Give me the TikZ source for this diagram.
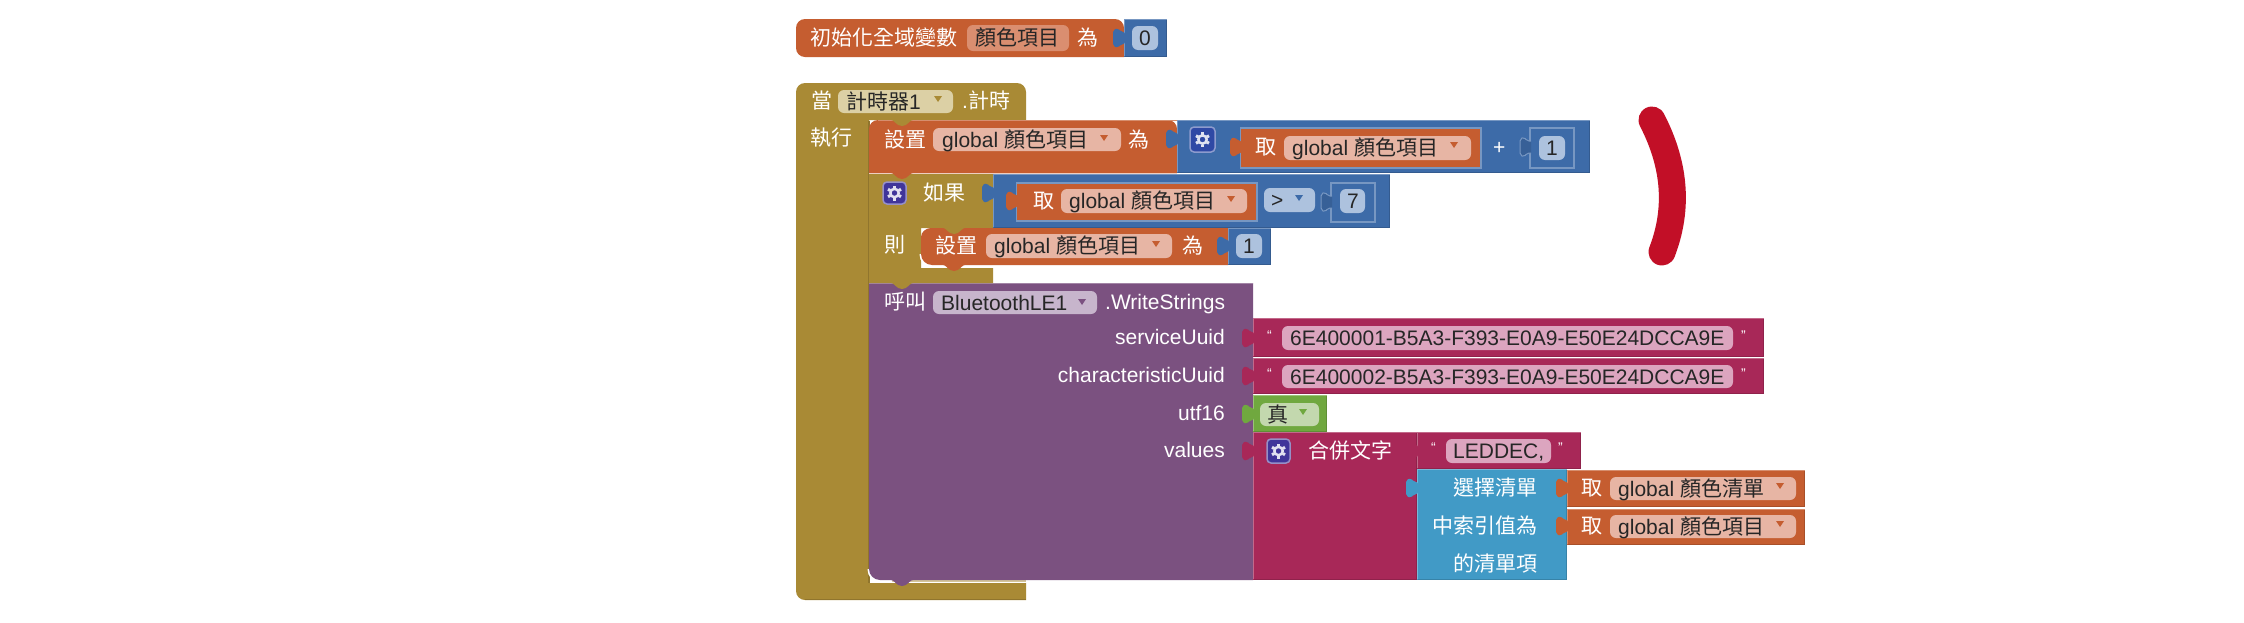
\documentclass[tikz,border=0pt]{standalone}
\usepackage{fontspec}
\setmainfont{Liberation Sans}
\newfontfamily\cjk{Noto Sans CJK TC}
\definecolor{cOr}{HTML}{C55D30}
\definecolor{cBl}{HTML}{3D6BA8}
\definecolor{cOl}{HTML}{A98A35}
\definecolor{cPu}{HTML}{7B5180}
\definecolor{cMa}{HTML}{A82858}
\definecolor{cGr}{HTML}{70A83F}
\definecolor{cSk}{HTML}{419AC6}
\definecolor{cRe}{HTML}{C20F27}
\definecolor{fOr}{HTML}{E7B5A4}
\definecolor{fOd}{HTML}{DA8E70}
\definecolor{fOl}{HTML}{DCD0A5}
\definecolor{fPu}{HTML}{C7B5CC}
\definecolor{fMa}{HTML}{DCA5BF}
\definecolor{fBl}{HTML}{ADC2DE}
\definecolor{fGr}{HTML}{C3D8AE}
\definecolor{cGa}{HTML}{2F49A5}
\definecolor{cGb}{HTML}{40359A}
\newcommand{\cj}[1]{{\cjk #1}}
\newcommand{\Gv}[1]{global \cj{#1}}
\tikzset{
  lbl/.style={inner sep=0pt,text=white,font=\fontsize{21}{21}\selectfont},
  fldtxt/.style={inner sep=0pt,text=black!85,font=\fontsize{21}{21}\selectfont},
  quot/.style={inner sep=0pt,text=white,font=\fontsize{14}{14}\selectfont},
}
\newcommand{\Blk}[5]{%
  \fill[#1] (#2,#3) rectangle (#4,#5);
  \draw[#1!70!white,line width=1.5pt] (#2+0.7,#5-1) -- (#2+0.7,#3+0.7) -- (#4,#3+0.7);
  \draw[#1!85!black,line width=1.5pt] (#2+1,#5-0.7) -- (#4-0.7,#5-0.7) -- (#4-0.7,#3+1);
}
% output tab sticking out left of x
\newcommand{\Ntab}[3]{%
  \begin{scope}[shift={(#1,#2)}]
  \fill[#3,rounded corners=2pt] (1,-6) -- (-3,-6) -- (-6,-10) -- (-11,-8) -- (-11,8) -- (-6,10) -- (-3,6) -- (1,6) -- cycle;
  \end{scope}}
% tab of an empty-looking socket, outlined
\newcommand{\Stab}[2]{%
  \begin{scope}[shift={(#1,#2)}]
  \draw[cBl!70!white,fill=cBl!90!black,line width=1pt,rounded corners=2pt] (1,-6) -- (-3,-6) -- (-6,-10) -- (-10,-8) -- (-10,8) -- (-6,10) -- (-3,6) -- (1,6);
  \end{scope}}
\newcommand{\Bump}[3]{%
  \begin{scope}[shift={(#1,#2)}]
  \fill[#3] (0,-0.5) .. controls (5,0) and (6,6) .. (12,6) .. controls (18,6) and (19,0) .. (24,-0.5) -- cycle;
  \end{scope}}
\newcommand{\Fld}[8]{%
  \fill[#6,rounded corners=6pt] (#2,#3) rectangle (#4,#5);
  \path (#7,{(#3+#5)/2+7.5}) node[fldtxt,anchor=base west] (#1) {#8};}
\newcommand{\Tri}[3]{%
  \begin{scope}[shift={(#1,#2)}]
  \fill[#3] (-4,-3) -- (4,-3) -- (0,3) -- cycle;
  \end{scope}}
\newcommand{\Tx}[4]{\path (#2,#3+7.5) node[lbl,anchor=base west] (#1) {#4};}
\newcommand{\Tr}[4]{\path (#2,#3+7.5) node[lbl,anchor=base east] (#1) {#4};}
\newcommand{\Qx}[4]{\path (#2,#3+7.5) node[quot,anchor=base west] (#1) {#4};}
\newcommand{\Gear}[5]{%
  \fill[#5,draw=#5!55!white,line width=1.5pt,rounded corners=4pt] (#1,#2) rectangle (#3,#4);
  \begin{scope}[shift={({(#1+#3)/2},{(#2+#4)/2})}]
  \draw[white!85!#5,line width=2.5pt] (0,0) circle (4.2);
  \foreach \a in {30,90,...,330} \draw[white!85!#5,line width=3pt] (\a:5) -- (\a:7.5);
  \end{scope}}
\newcommand{\Sock}[4]{\draw[cBl!70!white,line width=1.5pt] (#1,#2) rectangle (#3,#4);}
\begin{document}
\begin{tikzpicture}[x=1pt,y=-1pt]
\useasboundingbox (0,0) rectangle (2244,622);
\fill[white] (0,0) rectangle (2244,622);

% ---- initialise global
\fill[cOr] (1124,57) [rounded corners=9pt] -- (796,57) -- (796,19) -- (1124,19) [sharp corners] -- cycle;
\Blk{cBl}{1124}{19}{1167}{57}
\Ntab{1124}{38}{cBl}
\Tx{t_init}{810}{38}{\cj{初始化全域變數}}
\Fld{f_init}{967}{25}{1069}{51}{fOd}{975}{\cj{顏色項目}}
\Tx{t_init2}{1077}{38}{\cj{為}}
\Fld{f_zero}{1132}{26}{1158}{50}{fBl}{1139}{0}

% ---- timer event (olive bracket)
\fill[cOl] (1026,600) [rounded corners=9pt] -- (796,600) -- (796,83) -- (1026,83) [sharp corners] -- (1026,120) -- (869,120) -- (869,583) -- (1026,583) -- cycle;
\draw[cOl!85!black,line width=1.2pt] (869,121) -- (869,583);
\draw[cOl!85!black,line width=1.5pt] (805,599.3) -- (1026,599.3);
\Tx{t_when}{811}{101}{\cj{當}}
\Fld{f_timer}{838}{90}{953}{113}{fOl}{846}{\cj{計時器}1}
\Tri{938}{99}{cOl}
\Tx{t_tick}{962}{101}{.\cj{計時}}
\Tx{t_do}{810}{138}{\cj{執行}}

% ---- call BluetoothLE1.WriteStrings
\draw[cOl!50!white,line width=1.5pt] (880,581) -- (1026,581);
\draw[white,line width=2pt] (868.5,569) .. controls (868.5,576) and (873,581) .. (880,581) -- (892,581);
\fill[cPu] (1253,580) -- (880,580) .. controls (874,580) and (869,575) .. (869,569) -- (869,283) -- (1253,283) -- cycle;
\draw[cPu!70!white,line width=1.5pt] (869,283.7) -- (1253,283.7);
\Bump{890}{580}{cPu}
\Tx{t_call}{884}{302}{\cj{呼叫}}
\Fld{f_ble}{933}{291}{1097}{314}{fPu}{941}{BluetoothLE1}
\Tri{1082}{302}{cPu}
\Tx{t_write}{1105}{302}{.WriteStrings}
\Tr{t_svc}{1225}{337}{serviceUuid}
\Tr{t_chr}{1225}{375}{characteristicUuid}
\Tr{t_utf}{1225}{413}{utf16}
\Tr{t_val}{1225}{450}{values}

% service uuid
\Blk{cMa}{1253}{318}{1764}{357}
\Ntab{1253}{338}{cMa}
\Qx{q_a}{1267}{332.5}{“}
\Fld{f_svc}{1282}{326}{1733}{350}{fMa}{1290}{6E400001-B5A3-F393-E0A9-E50E24DCCA9E}
\Qx{q_b}{1741}{332.5}{”}
% characteristic uuid
\Blk{cMa}{1253}{358}{1764}{394}
\Ntab{1253}{376}{cMa}
\Qx{q_c}{1267}{370.5}{“}
\Fld{f_chr}{1282}{365}{1733}{388}{fMa}{1290}{6E400002-B5A3-F393-E0A9-E50E24DCCA9E}
\Qx{q_d}{1741}{370.5}{”}
% true
\Blk{cGr}{1253}{395}{1327}{432}
\Ntab{1253}{414}{cGr}
\Fld{f_true}{1260}{403}{1319}{426}{fGr}{1267}{\cj{真}}
\Tri{1303}{412}{cGr}
% join
\Blk{cMa}{1253}{432}{1417}{580}
\Ntab{1253}{451}{cMa}
\Gear{1267}{439}{1290}{463}{cGb}
\Tx{t_join}{1308}{451}{\cj{合併文字}}
% LEDDEC
\Blk{cMa}{1417}{432}{1581}{469}
\Ntab{1417}{451}{cMa}
\Qx{q_e}{1431}{445}{“}
\Fld{f_led}{1446}{439}{1551}{463}{fMa}{1453}{LEDDEC,}
\Qx{q_f}{1558}{445}{”}
% select list item
\Blk{cSk}{1417}{469}{1567}{580}
\Ntab{1417}{488}{cSk}
\Tr{t_sel1}{1538}{488}{\cj{選擇清單}}
\Tr{t_sel2}{1538}{526}{\cj{中索引值為}}
\Tr{t_sel3}{1538}{564}{\cj{的清單項}}
\Blk{cOr}{1567}{470}{1805}{507}
\Ntab{1567}{488}{cOr}
\Tx{t_get1}{1581}{488}{\cj{取}}
\Fld{f_get1}{1610}{477}{1796}{500}{fOr}{1618}{\Gv{顏色清單}}
\Tri{1780}{486}{cOr}
\Blk{cOr}{1567}{509}{1805}{545}
\Ntab{1567}{526}{cOr}
\Tx{t_get2}{1581}{526}{\cj{取}}
\Fld{f_get2}{1610}{515}{1796}{538}{fOr}{1618}{\Gv{顏色項目}}
\Tri{1780}{524}{cOr}

% ---- if block
\fill[cOl] (869,173) -- (993,173) -- (993,228) -- (921,228) -- (921,268) -- (993,268) -- (993,283) -- (869,283) -- cycle;
\Bump{890}{283}{cOl}
\Gear{883}{182}{906}{204}{cGb}
\Tx{t_if}{923}{193}{\cj{如果}}
\Tx{t_then}{884}{245}{\cj{則}}
% compare block
\Blk{cBl}{993}{174}{1390}{228}
\Ntab{993}{193}{cBl}
\Sock{1017}{183}{1257}{221}
\Fld{f_x}{1264}{188}{1315}{212}{fBl}{1271}{>}
\Tri{1299}{198}{cBl}
\Sock{1331}{183}{1375}{222}
\Stab{1331}{202}
\Fld{f_seven}{1340}{189}{1365}{213}{fBl}{1347}{7}
\fill[cOr] (1017,184) rectangle (1256,220);
\Ntab{1017}{201}{cOr}
\Tx{t_get3}{1033}{201}{\cj{取}}
\Fld{f_get3}{1061}{189}{1247}{213}{fOr}{1069}{\Gv{顏色項目}}
\Tri{1231}{199}{cOr}

% ---- inner set
\draw[white,line width=2pt] (920.5,254) .. controls (920.5,261) and (925,266) .. (932,266) -- (944,266);
\fill[cOr] (1228,265) -- (932,265) .. controls (926,265) and (921,260) .. (921,254) -- (921,237) .. controls (921,232) and (926,228) .. (931,228) -- (1228,228) -- cycle;
\Bump{942}{265}{cOr}
\Bump{942}{228}{cOl}
\Tx{t_set2}{935}{246}{\cj{設置}}
\Fld{f_set2}{986}{234}{1172}{258}{fOr}{994}{\Gv{顏色項目}}
\Tri{1156}{244}{cOr}
\Tx{t_set2b}{1182}{246}{\cj{為}}
\Blk{cBl}{1228}{228}{1271}{265}
\Ntab{1228}{246}{cBl}
\Fld{f_one2}{1236}{234}{1262}{258}{fBl}{1243}{1}

% ---- top set
\fill[cOr] (1177,173) -- (869,173) [rounded corners=9pt] -- (869,120) -- (1177,120) [sharp corners] -- cycle;
\draw[cOr!70!white,line width=1.5pt] (878,120.7) -- (1177,120.7);
\draw[white!70!cOr,line width=1.2pt] (869,173.5) -- (1177,173.5);
\Bump{890}{120}{cOl}
\Bump{890}{173}{cOr}
\Tx{t_set}{884}{140}{\cj{設置}}
\Fld{f_set}{933}{128}{1121}{151}{fOr}{942}{\Gv{顏色項目}}
\Tri{1104}{138}{cOr}
\Tx{t_setb}{1128}{140}{\cj{為}}
\Blk{cBl}{1177}{120}{1590}{173}
\Ntab{1177}{139}{cBl}
\Gear{1190}{127}{1215}{152}{cGa}
\Sock{1241}{128}{1481}{168}
\fill[cOr] (1241,129) rectangle (1480,167);
\Ntab{1241}{147}{cOr}
\Tx{t_get4}{1255}{147}{\cj{取}}
\Fld{f_get4}{1284}{136}{1471}{160}{fOr}{1292}{\Gv{顏色項目}}
\Tri{1454}{145}{cOr}
\Tx{t_plus}{1493}{147}{+}
\Sock{1530}{128}{1574}{168}
\Stab{1530}{147}
\Fld{f_one}{1539}{136}{1565}{160}{fBl}{1546}{1}

% red bracket
\draw[cRe,line width=27pt,line cap=round] (1652,120) .. controls (1670,155) and (1682,200) .. (1662,252);
\end{tikzpicture}
\end{document}
